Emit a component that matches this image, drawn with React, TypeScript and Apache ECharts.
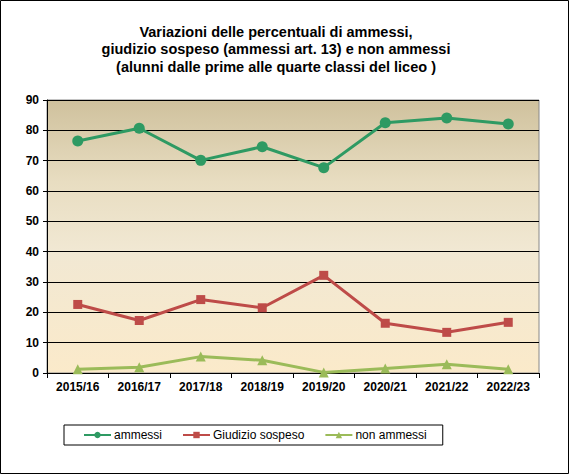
import React, { useEffect, useRef } from "react";
import * as echarts from "echarts";

const categories = ["2015/16", "2016/17", "2017/18", "2018/19", "2019/20", "2020/21", "2021/22", "2022/23"];
const ammessi = [76.5, 80.7, 70.1, 74.6, 67.7, 82.5, 84.1, 82.1];
const giudizioSospeso = [22.6, 17.3, 24.2, 21.5, 32.2, 16.4, 13.4, 16.7];
const nonAmmessi = [1.2, 1.9, 5.4, 4.2, 0.2, 1.5, 2.9, 1.2];
const titleText = "Variazioni delle percentuali di ammessi,\ngiudizio sospeso (ammessi art. 13) e non ammessi\n(alunni dalle prime alle quarte classi del liceo )";

export default function App() {
  const ref = useRef<HTMLDivElement>(null);
  useEffect(() => {
    if (!ref.current) return;
    const chart = echarts.init(ref.current, null, { renderer: "svg" });
    const font = "Arial, 'Liberation Sans', sans-serif";
    chart.setOption({
      animation: false,
      backgroundColor: "#ffffff",
      textStyle: { fontFamily: font },
      title: {
        text: titleText,
        left: 271,
        top: 18,
        textAlign: "center",
        textStyle: { fontFamily: font, fontSize: 14.5, fontWeight: "bold", color: "#000", lineHeight: 17.5 },
      },
      graphic: [
        {
          type: "rect",
          shape: { x: 0.5, y: 0.5, width: 568, height: 473 },
          style: { fill: "none", stroke: "#000", lineWidth: 1 },
          silent: true,
        },
      ],
      legend: {
        left: 64,
        top: 425,
        width: 378,
        padding: [4, 16, 4, 19],
        borderColor: "#000",
        borderWidth: 1,
        itemGap: 20,
        itemWidth: 27,
        itemHeight: 8,
        textStyle: { fontFamily: font, fontSize: 12, color: "#000", padding: [0, 0, 0, -2] },
        data: ["ammessi", "Giudizio sospeso", "non ammessi"],
      },
      grid: {
        left: 47,
        right: 30,
        top: 100,
        bottom: 101,
        show: true,
        borderColor: "#888",
        borderWidth: 1,
        backgroundColor: new echarts.graphic.LinearGradient(0, 0, 0, 1, [
          { offset: 0, color: "#CFC19D" },
          { offset: 0.3, color: "#E8DDC1" },
          { offset: 0.55, color: "#F1E8D3" },
          { offset: 1, color: "#FBEACA" },
        ]),
      },
      xAxis: {
        type: "category",
        data: categories,
        boundaryGap: true,
        axisLine: { lineStyle: { color: "#000", width: 1 } },
        axisTick: { show: true, length: 5, lineStyle: { color: "#000" }, alignWithLabel: false },
        axisLabel: { fontFamily: font, fontSize: 12, fontWeight: "bold", color: "#000", margin: 8 },
        splitLine: { show: false },
      },
      yAxis: {
        type: "value",
        min: 0,
        max: 90,
        interval: 10,
        axisLine: { show: true, lineStyle: { color: "#000", width: 1 } },
        axisTick: { show: true, length: 4, lineStyle: { color: "#000" } },
        axisLabel: { fontFamily: font, fontSize: 12, fontWeight: "bold", color: "#000", margin: 8 },
        splitLine: { show: true, lineStyle: { color: "#000", width: 1 } },
      },
      series: [
        {
          name: "ammessi",
          type: "line",
          data: ammessi,
          symbol: "circle",
          symbolSize: 11,
          lineStyle: { color: "#2E9A63", width: 3 },
          itemStyle: { color: "#2E9A63" },
        },
        {
          name: "Giudizio sospeso",
          type: "line",
          data: giudizioSospeso,
          symbol: "rect",
          symbolSize: 9,
          lineStyle: { color: "#BE4B48", width: 3 },
          itemStyle: { color: "#BE4B48" },
        },
        {
          name: "non ammessi",
          type: "line",
          data: nonAmmessi,
          symbol: "triangle",
          symbolSize: 10,
          lineStyle: { color: "#9BBB59", width: 3 },
          itemStyle: { color: "#9BBB59" },
        },
      ],
    });
    return () => chart.dispose();
  }, []);
  return <div ref={ref} style={{ position: "fixed", left: 0, top: 0, width: 569, height: 474 }} />;
}
